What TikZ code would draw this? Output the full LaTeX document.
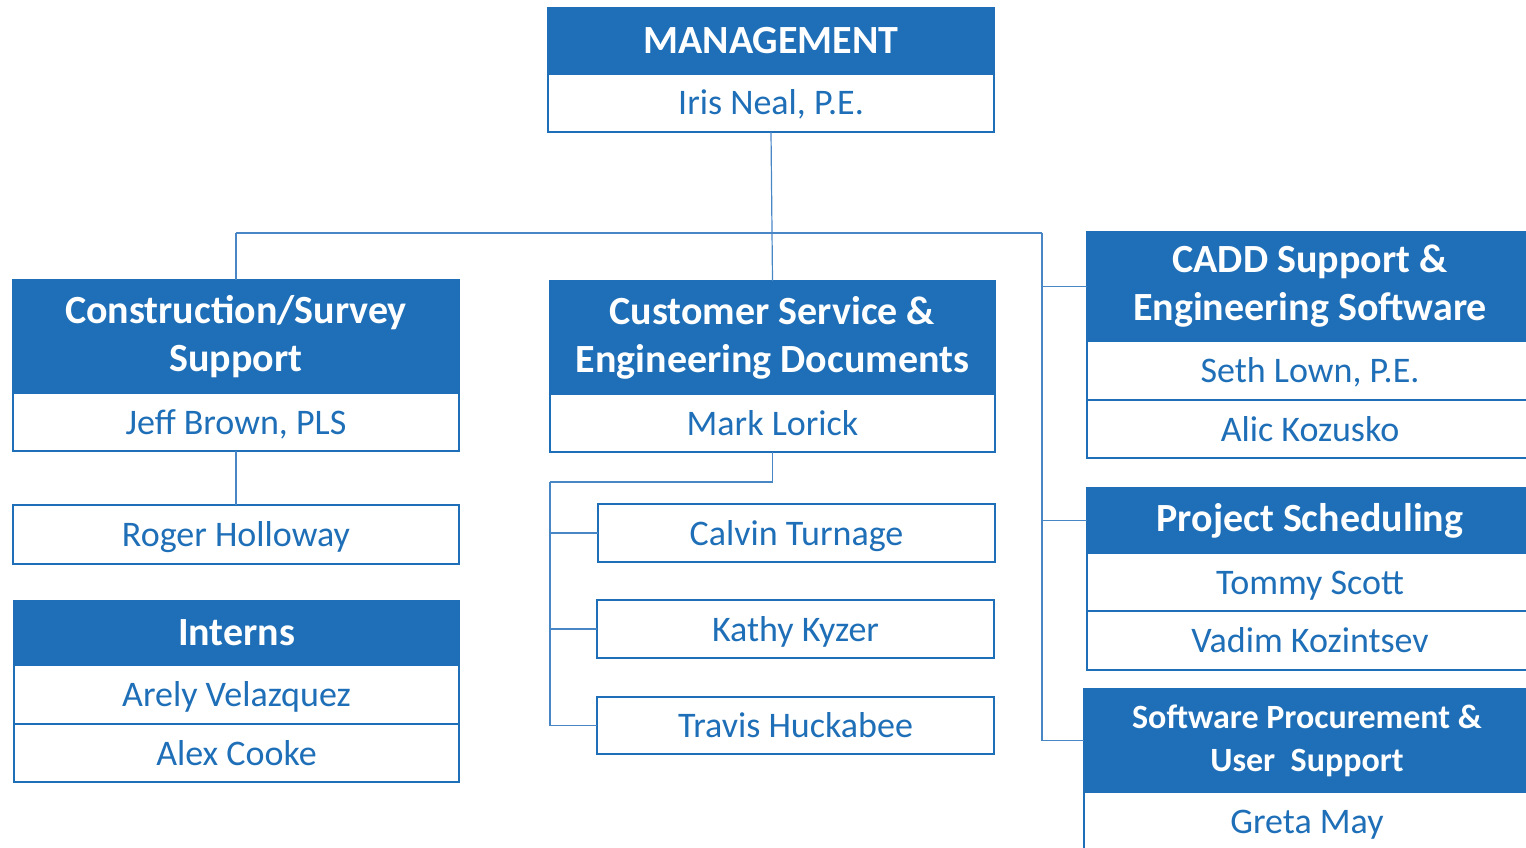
\documentclass[tikz,border=0pt]{standalone}
\usepackage{fontspec}
\setmainfont{Carlito}
\usepackage{tikz}
\usetikzlibrary{positioning}

\definecolor{orgblue}{RGB}{30,111,183}
\definecolor{linkblue}{RGB}{72,134,198}

\tikzset{
  head/.style={fill=orgblue, draw=orgblue, line width=1.5pt, text=white,
    font=\bfseries\fontsize{40}{48}\selectfont, align=center,
    minimum width=446pt, inner sep=0pt, outer sep=0pt, anchor=north west},
  person/.style={fill=white, draw=orgblue, line width=1.5pt, text=orgblue,
    font=\fontsize{36}{40}\selectfont, minimum width=446pt,
    minimum height=58pt, text height=24pt, text depth=0pt,
    inner sep=0pt, outer sep=0pt},
  link/.style={draw=linkblue, line width=1.2pt}
}

\begin{document}
\begin{tikzpicture}[x=1pt,y=-1pt,node distance=0pt]
     \useasboundingbox (0,0) rectangle (1526,848);
     \clip (0,0) rectangle (1526,848);

     % management
     \node[head, minimum height=66pt] (mgmt) at (548,8) {MANAGEMENT};
     \node[person] (iris) [below=of mgmt] {Iris Neal, P.E.};

     % left column
     \node[head, minimum height=113pt] (cons) at (13,280) {Construction/Survey\\Support};
     \node[person] (jeff) [below=of cons] {Jeff Brown, PLS};
     \node[person, minimum height=59pt, anchor=north west] (roger) at (13,505) {Roger Holloway};
     \node[head, minimum height=64pt, minimum width=445pt] (interns) at (14,601) {Interns};
     \node[person, minimum width=445pt, minimum height=59pt] (arely) [below=of interns] {Arely Velazquez};
     \node[person, minimum width=445pt] (alex) [below=of arely] {Alex Cooke};

     % middle column
     \node[head, minimum height=113pt, minimum width=445pt] (cust) at (550,281) {Customer Service \&\\Engineering Documents};
     \node[person, minimum width=445pt] (mark) [below=of cust] {Mark Lorick};
     \node[person, minimum width=397pt, anchor=north west] (calvin) at (598,504) {Calvin Turnage};
     \node[person, minimum width=397pt, anchor=north west] (kathy) at (597,600) {Kathy Kyzer};
     \node[person, minimum width=397pt, minimum height=57pt, anchor=north west] (travis) at (597,697) {Travis Huckabee};

     % right column
     \node[head, minimum height=109pt] (cadd) at (1087,232) {CADD Support \&\\Engineering Software};
     \node[person, minimum height=59pt] (seth) [below=of cadd] {Seth Lown, P.E.};
     \node[person] (alic) [below=of seth] {Alic Kozusko};
     \node[head, minimum height=65pt] (proj) at (1087,488) {Project Scheduling};
     \node[person] (tommy) [below=of proj] {Tommy Scott};
     \node[person, minimum height=59pt] (vadim) [below=of tommy] {Vadim Kozintsev};
     \node[head, minimum height=103pt, font=\bfseries\fontsize{34}{43}\selectfont] (soft) at (1084,689) {Software Procurement \&\\User~~Support};
     \node[person] (greta) [below=of soft] {Greta May};

     % connectors
     \coordinate (bus) at (771,233);
     \coordinate (busL) at (cons.north |- bus);
     \coordinate (busR) at (1042,233);
     \coordinate (tap) at (550,482);

     \draw[link] (busL) -- (busR);
     \draw[link] (busL) -- (cons.north);
     \draw[link] (iris.south) -- (cust.north);
     \draw[link] (busR) |- (cadd.west);
     \draw[link] (busR) |- (proj.west);
     \draw[link] (busR) |- (soft.west);
     \draw[link] (jeff.south) -- (roger.north);
     \draw[link] (mark.south) |- (tap);
     \draw[link] (tap) |- (calvin.west);
     \draw[link] (tap) |- (kathy.west);
     \draw[link] (tap) |- (travis.west);
\end{tikzpicture}
\end{document}
